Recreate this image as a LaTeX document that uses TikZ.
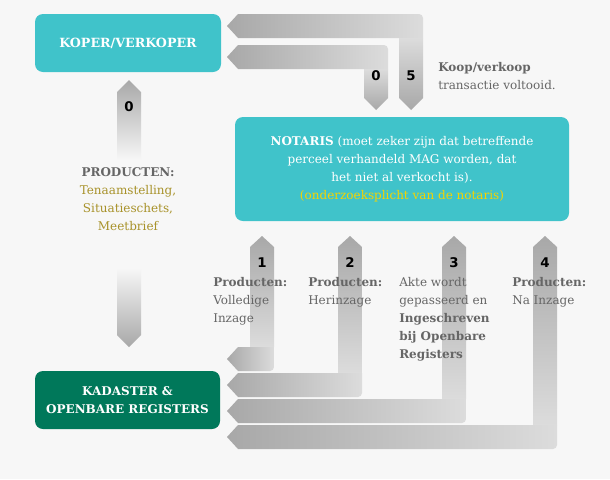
\documentclass[tikz,border=0pt]{standalone}
\usepackage{fontspec}
\setmainfont{DejaVu Serif}
\newfontfamily\numfont{DejaVu Sans}

\definecolor{pagebg}{HTML}{F7F7F7}
\definecolor{tealbox}{HTML}{40C3CA}
\definecolor{greenbox}{HTML}{00785A}
\definecolor{textgray}{HTML}{666666}
\definecolor{olive}{HTML}{A8922A}
\definecolor{notegold}{HTML}{F5D400}
\definecolor{arrowdark}{HTML}{A8A8A8}
\definecolor{arrowlight}{HTML}{DCDCDC}
\definecolor{arrowpale}{HTML}{EEEEEE}

\tikzstyle{block} = [rectangle,rounded corners=6pt,text=white,align=center,inner sep=0pt]
\tikzstyle{tealblock} = [block,fill=tealbox]
\tikzstyle{greenblock} = [block,fill=greenbox]
\tikzstyle{numlabel} = [font=\numfont\bfseries\fontsize{10}{12}\selectfont,text=black]
\tikzstyle{caption} = [font=\fontsize{9}{13.5}\selectfont,text=textgray,align=left,inner sep=0pt]
\tikzstyle{hband} = [left color=arrowdark,right color=arrowlight]

\begin{document}
\begin{tikzpicture}[x=0.75pt,y=-0.75pt]
      \fill[pagebg] (0,0) rectangle (610,479);
      \useasboundingbox (0,0) rectangle (610,479);

      %nodes
      \node[tealblock,minimum width=139.5pt,minimum height=43.5pt,font=\bfseries\fontsize{9.5}{12}\selectfont] (koper) at (128,43) {KOPER/VERKOPER};
      \node[tealblock,minimum width=250.5pt,minimum height=78pt,font=\fontsize{9}{13.5}\selectfont] (notaris) at (402,169)
        {\textbf{NOTARIS} (moet zeker zijn dat betreffende\\perceel verhandeld MAG worden, dat\\het niet al verkocht is).\\\textcolor{notegold}{(onderzoeksplicht van de notaris)}};
      \node[greenblock,minimum width=138.75pt,minimum height=43.5pt,font=\bfseries\fontsize{9}{13.5}\selectfont] (kadaster) at (127.5,400) {KADASTER \&\\OPENBARE REGISTERS};

      %arrows notaris -> koper
      \foreach \x/\y/\lbl in {364/45/0, 399/14/5}
      {
        \shade[hband] (227,\y+12) -- (238,\y) [rounded corners=3pt] -- (\x+24,\y) [sharp corners] -- (\x+24,\y+24) -- (238,\y+24) -- cycle;
        \shade[top color=arrowlight,bottom color=arrowdark] (\x,\y+24) -- (\x+24,\y+24) -- (\x+24,98) -- (\x+12,110) -- (\x,98) -- cycle;
        \node[numlabel] at (\x+12,76) {\lbl};
      };

      %arrow koper <-> kadaster
      \shade[top color=arrowdark,bottom color=pagebg] (129,80) -- (141,92) -- (141,160) -- (117,160) -- (117,92) -- cycle;
      \shade[top color=pagebg,bottom color=arrowdark] (117,268) -- (141,268) -- (141,335) -- (129,347) -- (117,335) -- cycle;
      \node[numlabel] at (129,107) {0};

      %arrows kadaster -> notaris
      \foreach \x/\y/\lbl in {250/347/1, 338/373/2, 442/399/3, 533/425/4}
      {
        \shade[top color=arrowdark,middle color=arrowpale,bottom color=arrowlight] (\x,\y) -- (\x,247) -- (\x+12,236) -- (\x+24,247) -- (\x+24,\y) -- cycle;
        \shade[hband] (227,\y+12) -- (238,\y) -- (\x+24,\y) [rounded corners=3pt] -- (\x+24,\y+24) [sharp corners] -- (238,\y+24) -- cycle;
        \node[numlabel] at (\x+12,263) {\lbl};
      };

      %texts
      \node[caption,anchor=west] (koop) at (438,76) {\textbf{Koop/verkoop}\\transactie voltooid.};
      \node[caption,align=center,text=olive] (producten) at (128,199) {\textcolor{textgray}{\textbf{PRODUCTEN:}}\\Tenaamstelling,\\Situatieschets,\\Meetbrief};
      \node[caption,anchor=north west] (prod1) at (213,277) {\textbf{Producten:}\\Volledige\\Inzage};
      \node[caption,anchor=north west] (prod2) at (308,277) {\textbf{Producten:}\\Herinzage};
      \node[caption,anchor=north west] (akte) at (399,277) {Akte wordt\\gepasseerd en\\\textbf{Ingeschreven}\\\textbf{bij Openbare}\\\textbf{Registers}};
      \node[caption,anchor=north west] (prod4) at (512,277) {\textbf{Producten:}\\Na Inzage};
    \end{tikzpicture}
\end{document}
